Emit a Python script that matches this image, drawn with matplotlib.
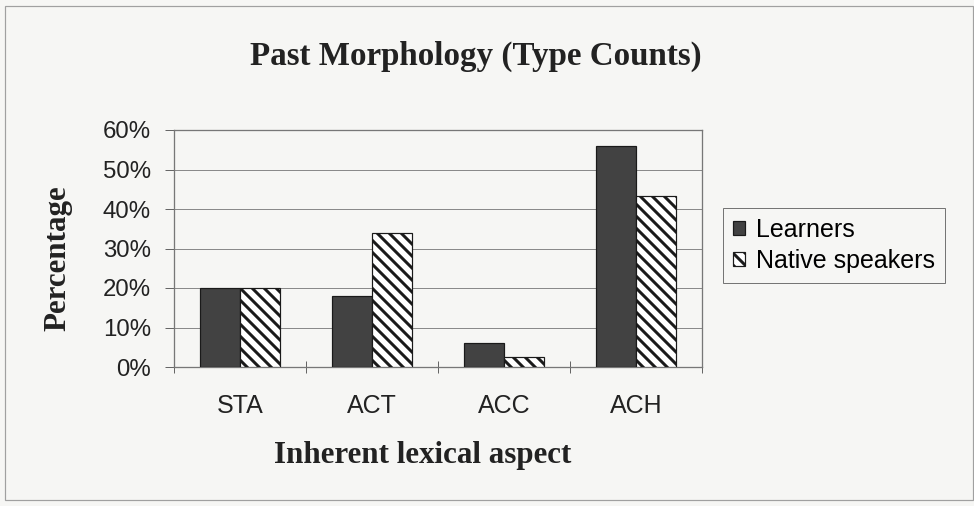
import matplotlib.pyplot as plt
import matplotlib.patches as mpatches
import numpy as np

# values (percent)
categories = ["STA", "ACT", "ACC", "ACH"]
learners = [20, 18, 6, 56]
native = [20, 34, 2.6, 43.3]
yticks = [0, 10, 20, 30, 40, 50, 60]

W, H, DPI = 974, 506, 72
plt.rcParams['hatch.linewidth'] = 3.0
plt.rcParams['hatch.color'] = 'black'

bg = '#f6f6f4'
fig = plt.figure(figsize=(W / DPI, H / DPI), dpi=DPI, facecolor=bg)

# thin outer frame of the chart
fig.patches.append(mpatches.Rectangle((5 / W, 6 / H), (W - 6) / W, (H - 12) / H,
                                      transform=fig.transFigure, fill=False,
                                      edgecolor='#a0a0a0', linewidth=1.2))

ax = fig.add_axes([174 / W, (H - 367) / H, 528 / W, 237 / H])
ax.set_facecolor(bg)

x = np.arange(len(categories))
bw = 0.303
ax.bar(x - bw / 2, learners, bw, color='#424242', edgecolor='#1a1a1a',
       linewidth=1.2, label='Learners', zorder=3)
ax.bar(x + bw / 2, native, bw, color='white', edgecolor='#1a1a1a',
       hatch='\\\\', linewidth=1.2, label='Native speakers', zorder=3)

ax.set_xlim(-0.5, len(categories) - 0.5)
ax.set_ylim(0, 60)
ax.set_yticks(yticks)
ax.set_yticklabels([f"{v}%" for v in yticks])
ax.yaxis.grid(True, color='#8a8a8a', linewidth=1.0, zorder=0)

# category labels centered, tick marks on boundaries
ax.set_xticks(np.arange(-0.5, len(categories), 1.0))
ax.set_xticklabels([])
ax.set_xticks(x, minor=True)
ax.set_xticklabels(categories, minor=True)
ax.tick_params(axis='x', which='major', direction='inout', length=12,
               width=1, color='#666666')
ax.tick_params(axis='x', which='minor', length=0, pad=27, labelsize=25)
ax.tick_params(axis='y', direction='out', length=9, width=1, color='#666666',
               labelsize=24, pad=14)

for s in ax.spines.values():
    s.set_color('#777777')
    s.set_linewidth(1.3)

for lab in ax.get_yticklabels() + ax.get_xticklabels(minor=True):
    lab.set_fontfamily('Liberation Sans')
    lab.set_color('#222222')

serif = dict(family='Liberation Serif', weight='bold', color='#222222')
fig.text(476 / W, 1 - 56 / H, 'Past Morphology (Type Counts)', ha='center',
         va='center', fontsize=33, **serif)
fig.text(423 / W, 1 - 456 / H, 'Inherent lexical aspect', ha='center',
         va='center', fontsize=31, **serif)
fig.text(58 / W, 1 - 258 / H, 'Percentage', ha='center', va='center',
         rotation=90, fontsize=31, **serif)

leg = ax.legend(loc='upper left', bbox_to_anchor=(723 / W, 1 - 208 / H),
                bbox_transform=fig.transFigure, frameon=True, fancybox=False,
                prop={'family': 'Liberation Sans', 'size': 25},
                handlelength=0.5, handleheight=0.5, handletextpad=0.45,
                labelspacing=0.3, borderpad=0.38, borderaxespad=0)
leg.get_frame().set_edgecolor('#555555')
leg.get_frame().set_linewidth(1.0)
leg.get_frame().set_facecolor(bg)

fig.savefig('out.png', dpi=DPI, facecolor=fig.get_facecolor())
